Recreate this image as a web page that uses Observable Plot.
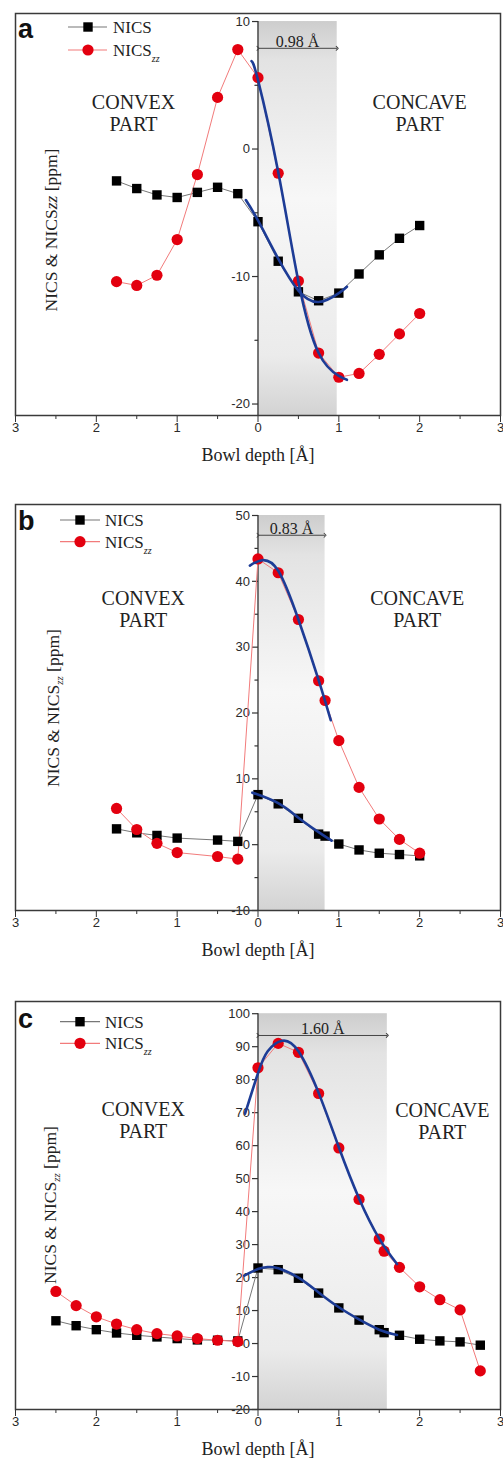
<!DOCTYPE html>
<html><head><meta charset="utf-8">
<script src="https://cdn.jsdelivr.net/npm/d3@7"></script>
<script src="https://cdn.jsdelivr.net/npm/@observablehq/plot@0.6"></script>
<style>
body{margin:0;background:#fff;}
#chart svg{display:block;}
</style></head><body><div id="chart"></div>
<script>
// ---------- data ----------
const xTicks = [-3, -2, -1, 0, 1, 2, 3];
const xMinorTicks = [-2.5, -1.5, -0.5, 0.5, 1.5, 2.5];
const panelLetters = ["a", "b", "c"];
const bowlDepths = [0.98, 0.83, 1.60];
const sideLabels = ["CONVEX\nPART", "CONCAVE\nPART"];
const xTitle = "Bowl depth [Å]";

// panel a
const depthA = [-1.75, -1.5, -1.25, -1, -0.75, -0.5, -0.25, 0, 0.25, 0.5, 0.75, 1, 1.25, 1.5, 1.75, 2];
const nicsA = [-2.5, -3.1, -3.6, -3.8, -3.4, -3.0, -3.5, -5.7, -8.8, -11.2, -11.9, -11.3, -9.8, -8.3, -7.0, -6.0];
const nicsZZA = [-10.4, -10.7, -9.9, -7.1, -2.0, 4.05, 7.8, 5.6, -1.9, -10.35, -16.0, -17.9, -17.6, -16.1, -14.5, -12.9];
const fitNicsAx = [-0.15, 0, 0.25, 0.5, 0.75, 1.0, 1.1];
const fitNicsAy = [-4.0, -5.6, -8.6, -11.1, -12.0, -11.3, -10.8];
const fitZZAx = [-0.08, 0, 0.25, 0.5, 0.75, 1.0, 1.1];
const fitZZAy = [6.9, 5.4, -1.8, -10.4, -16.0, -17.8, -18.1];
const yTicksA = [-20, -10, 0, 10];
const yMinorA = [-15, -5, 5];

// panel b
const depthB = [-1.75, -1.5, -1.25, -1, -0.5, -0.25, 0, 0.25, 0.5, 0.75, 0.83, 1, 1.25, 1.5, 1.75, 2];
const nicsB = [2.4, 1.8, 1.4, 1.0, 0.7, 0.5, 7.6, 6.2, 4.0, 1.6, 1.3, 0.1, -0.8, -1.3, -1.5, -1.7];
const nicsZZB = [5.5, 2.3, 0.2, -1.2, -1.8, -2.2, 43.4, 41.3, 34.2, 24.9, 21.9, 15.8, 8.7, 3.9, 0.8, -1.3];
const fitNicsBx = [-0.07, 0.25, 0.5, 0.75, 0.91];
const fitNicsBy = [7.9, 6.3, 4.1, 1.9, 0.6];
const fitZZBx = [-0.1, 0.05, 0.25, 0.5, 0.75, 0.9];
const fitZZBy = [42.4, 43.2, 41.6, 34.2, 25.0, 18.9];
const yTicksB = [-10, 0, 10, 20, 30, 40, 50];
const yMinorB = [-5, 5, 15, 25, 35, 45];

// panel c
const depthC = [-2.5, -2.25, -2, -1.75, -1.5, -1.25, -1, -0.75, -0.5, -0.25, 0, 0.25, 0.5, 0.75, 1, 1.25, 1.5, 1.56, 1.75, 2, 2.25, 2.5, 2.75];
const nicsC = [6.9, 5.4, 4.2, 3.2, 2.5, 2.0, 1.5, 1.1, 1.0, 0.8, 22.9, 22.4, 19.8, 15.3, 10.8, 7.1, 4.2, 3.3, 2.5, 1.3, 0.8, 0.5, -0.5];
const nicsZZC = [15.8, 11.5, 8.1, 5.9, 4.2, 3.0, 2.3, 1.5, 1.0, 0.6, 83.6, 91.0, 88.3, 75.8, 59.3, 43.7, 31.7, 28.0, 23.1, 17.2, 13.3, 10.2, -8.3];
const fitNicsCx = [-0.17, 0, 0.12, 0.25, 0.5, 0.75, 1.0, 1.25, 1.5, 1.72];
const fitNicsCy = [20.6, 22.6, 23.2, 22.8, 20.0, 15.5, 11.0, 7.3, 4.2, 2.6];
const fitZZCx = [-0.16, 0, 0.12, 0.3, 0.5, 0.75, 1.0, 1.25, 1.5, 1.72];
const fitZZCy = [69.7, 82.0, 88.6, 91.8, 88.6, 76.0, 59.5, 44.0, 31.8, 24.1];
const yTicksC = [-20, -10, 0, 10, 20, 30, 40, 50, 60, 70, 80, 90, 100];
const yMinorC = [];

// ---------- styles / layout ----------
const SERIF = "'Liberation Serif', 'Times New Roman', serif";
const SANS = "'Liberation Sans', Arial, sans-serif";
const C_NICS_LINE = "#777";
const C_ZZ_LINE = "#f27b7b";
const C_ZZ = "#e3000f";
const C_FIT = "#1d3c96";
const C_AXIS = "#333";

const panels = [
  {letter: panelLetters[0], depth: depthA, nics: nicsA, zz: nicsZZA,
   fitN: [fitNicsAx, fitNicsAy], fitZ: [fitZZAx, fitZZAy], yTicks: yTicksA, yMinor: yMinorA,
   bowl: bowlDepths[0], height: 490, mt: 13, mb: 75, yDomain: [-20.9, 10.63], yTop: 10, arrowY: 7.9,
   convex: [-1.54, 2.8], concave: [2.0, 2.8], legY: [27, 50], legX: [68, 107, 88, 113], letterY: 38,
   yTitle: [53, 230], sub: false},
  {letter: panelLetters[1], depth: depthB, nics: nicsB, zz: nicsZZB,
   fitN: [fitNicsBx, fitNicsBy], fitZ: [fitZZBx, fitZZBy], yTicks: yTicksB, yMinor: yMinorB,
   bowl: bowlDepths[1], height: 500, mt: 14, mb: 80, yDomain: [-10, 51.67], yTop: 50, arrowY: 47.0,
   convex: [-1.42, 35.8], concave: [1.97, 35.8], legY: [30, 51.7], legX: [60, 100, 80, 105], letterY: 40,
   yTitle: [55, 218], sub: true},
  {letter: panelLetters[2], depth: depthC, nics: nicsC, zz: nicsZZC,
   fitN: [fitNicsCx, fitNicsCy], fitZ: [fitZZCx, fitZZCy], yTicks: yTicksC, yMinor: yMinorC,
   bowl: bowlDepths[2], height: 468, mt: 11, mb: 49, yDomain: [-20, 103.7], yTop: 100, arrowY: 93.4,
   convex: [-1.42, 67.9], concave: [2.28, 67.6], legY: [31.7, 53.3], legX: [60, 100, 80, 105], letterY: 38,
   yTitle: [52, 215], sub: true}
];

// horizontal tick glyph pointing left from its anchor
const leftTick = len => ({draw(context) { context.moveTo(-len, 0); context.lineTo(0, 0); }});

function decorations(p) {
  return () => {
    const g = d3.create("svg:g").attr("text-anchor", "start");
    g.append("text").attr("x", 18).attr("y", p.letterY).attr("font-family", SANS)
      .attr("font-weight", "bold").attr("font-size", 27).attr("fill", "#111").text(p.letter);
    const [lx1, lx2, mx, tx] = p.legX;
    const rows = [
      {name: "NICS", line: C_NICS_LINE, sym: "square"},
      {name: "NICS", line: C_ZZ_LINE, sym: "circle", zz: true}
    ];
    rows.forEach((r, i) => {
      const y = p.legY[i];
      g.append("line").attr("x1", lx1).attr("x2", lx2).attr("y1", y).attr("y2", y)
        .attr("stroke", r.line).attr("stroke-width", 1.2);
      if (r.sym === "square") g.append("rect").attr("x", mx - 4.7).attr("y", y - 4.7)
        .attr("width", 9.4).attr("height", 9.4).attr("fill", "#000");
      else g.append("circle").attr("cx", mx).attr("cy", y).attr("r", 5.6).attr("fill", C_ZZ);
      const t = g.append("text").attr("x", tx).attr("y", y + 6).attr("font-family", SERIF)
        .attr("font-size", 17).attr("fill", "#222").text(r.name);
      if (r.zz) t.append("tspan").attr("dy", 6).attr("font-size", 10).attr("font-style", "italic").text("zz");
    });
    const yt = g.append("text").attr("transform", `translate(${p.yTitle[0]},${p.yTitle[1]}) rotate(-90)`)
      .attr("text-anchor", "middle").attr("dominant-baseline", "middle")
      .attr("font-family", SERIF).attr("font-size", 17.5).attr("fill", "#222");
    yt.append("tspan").text("NICS & NICS");
    if (p.sub) {
      yt.append("tspan").attr("dy", 5).attr("font-size", 11).attr("font-style", "italic").text("zz");
      yt.append("tspan").attr("dy", -5).text(" [ppm]");
    } else {
      yt.append("tspan").attr("font-style", "italic").text("zz");
      yt.append("tspan").text(" [ppm]");
    }
    return g.node();
  };
}

function gradientDefs(id) {
  return () => {
    const defs = d3.create("svg:defs");
    const lg = defs.append("linearGradient").attr("id", id)
      .attr("x1", 0).attr("x2", 0).attr("y1", 0).attr("y2", 1);
    [["0%", "#cdcdcd"], ["10%", "#e3e3e3"], ["45%", "#f7f7f7"], ["85%", "#ebebeb"], ["100%", "#d3d3d3"]]
      .forEach(([o, c]) => lg.append("stop").attr("offset", o).attr("stop-color", c));
    return defs.node();
  };
}

function panel(p) {
  const W = 503, mL = 15, mR = 3;
  const pts = (xs, ys) => xs.map((x, i) => ({x, y: ys[i]}));
  const nics = pts(p.depth, p.nics), zz = pts(p.depth, p.zz);
  const fitN = pts(p.fitN[0], p.fitN[1]), fitZ = pts(p.fitZ[0], p.fitZ[1]);
  const gid = "grad-" + p.letter;
  return Plot.plot({
    width: W, height: p.height, marginLeft: mL, marginRight: mR, marginTop: p.mt, marginBottom: p.mb,
    x: {domain: [-3, 3]},
    y: {domain: p.yDomain, axis: null},
    style: {fontFamily: SANS, color: C_AXIS, background: "white"},
    marks: [
      gradientDefs(gid),
      Plot.rect([p.bowl], {x1: 0, x2: d => d, y1: p.yDomain[0], y2: p.yTop, fill: `url(#${gid})`}),
      // y axis drawn along x = 0
      Plot.ruleX([0], {y1: p.yDomain[0], y2: p.yTop, stroke: C_AXIS, strokeWidth: 1.3}),
      Plot.dot(p.yTicks, {x: 0, y: d => d, symbol: leftTick(6), stroke: C_AXIS, strokeWidth: 1.2}),
      Plot.dot(p.yMinor, {x: 0, y: d => d, symbol: leftTick(3.5), stroke: C_AXIS, strokeWidth: 1.2}),
      Plot.text(p.yTicks, {x: 0, y: d => d, text: d => String(d), textAnchor: "end", dx: -8,
        fontSize: 13, fill: "#2a2a2a"}),
      Plot.axisX(xTicks, {anchor: "bottom", tickSize: 7, tickPadding: 0, fontSize: 13, label: null,
        tickFormat: d => String(Math.abs(d)), stroke: C_AXIS, fill: "#2a2a2a"}),
      Plot.axisX(xMinorTicks, {anchor: "bottom", tickSize: 4, tickFormat: () => "", label: null, stroke: C_AXIS}),
      Plot.frame({stroke: "#3a3a3a", strokeWidth: 1.5}),
      // bowl depth annotation
      Plot.link([p.bowl], {x1: 0, x2: d => d, y1: p.arrowY, y2: p.arrowY, stroke: "#444", strokeWidth: 1,
        markerStart: "arrow", markerEnd: "arrow"}),
      Plot.text([p.bowl], {x: d => d / 2, y: p.arrowY, text: d => d.toFixed(2) + " Å", lineAnchor: "bottom",
        dy: -1, fontFamily: SERIF, fontSize: 16, fill: "#222"}),
      // side labels
      Plot.text([sideLabels[0]], {x: p.convex[0], y: p.convex[1], text: d => d, fontFamily: SERIF,
        fontSize: 20, lineHeight: 1.1, fill: "#222"}),
      Plot.text([sideLabels[1]], {x: p.concave[0], y: p.concave[1], text: d => d, fontFamily: SERIF,
        fontSize: 20, lineHeight: 1.1, fill: "#222"}),
      // series
      Plot.line(nics, {x: "x", y: "y", stroke: C_NICS_LINE, strokeWidth: 1}),
      Plot.line(zz, {x: "x", y: "y", stroke: C_ZZ_LINE, strokeWidth: 1}),
      Plot.dot(nics, {x: "x", y: "y", symbol: "square", r: 5.3, fill: "#000"}),
      Plot.dot(zz, {x: "x", y: "y", r: 5.6, fill: C_ZZ}),
      Plot.line(fitN, {x: "x", y: "y", stroke: C_FIT, strokeWidth: 2.6, curve: "natural"}),
      Plot.line(fitZ, {x: "x", y: "y", stroke: C_FIT, strokeWidth: 2.6, curve: "natural"}),
      // x title
      Plot.text([xTitle], {text: d => d, frameAnchor: "bottom", dy: 40, lineAnchor: "middle",
        fontFamily: SERIF, fontSize: 18, fill: "#222"}),
      decorations(p)
    ]
  });
}

const root = document.getElementById("chart");
panels.forEach(p => root.appendChild(panel(p)));
</script>
</body></html>
